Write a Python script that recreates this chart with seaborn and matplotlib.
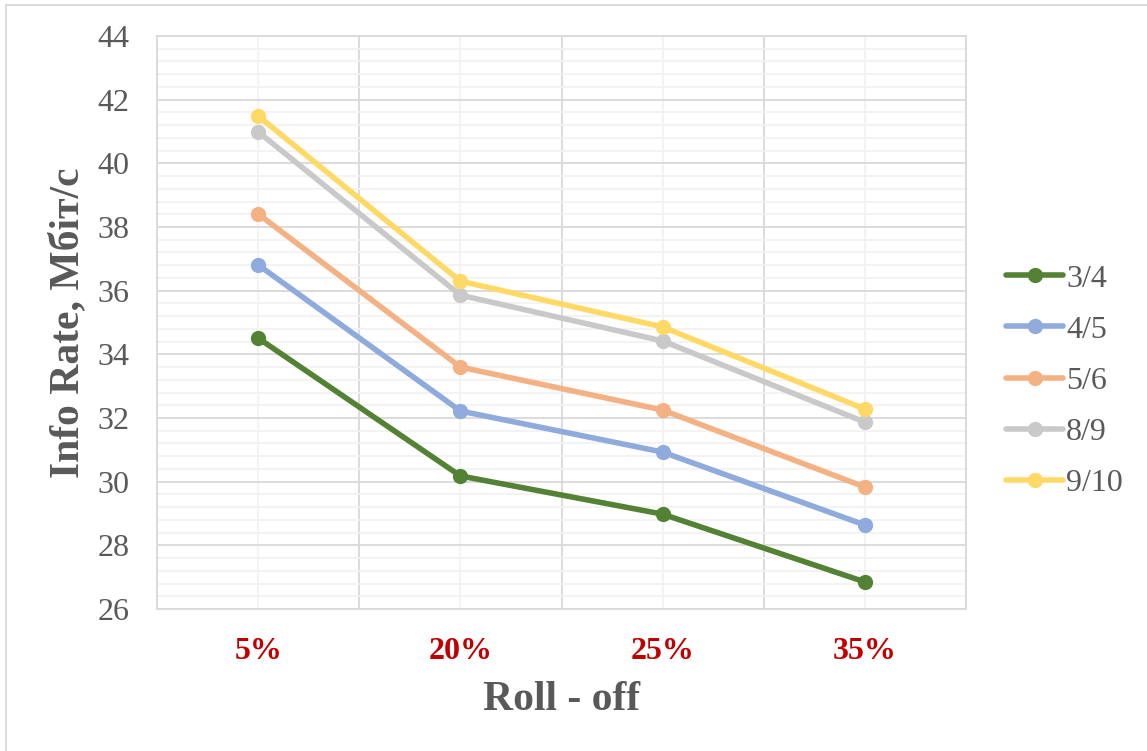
import numpy as np
import pandas as pd
import matplotlib
matplotlib.use("Agg")
import matplotlib.pyplot as plt
from matplotlib.ticker import FixedLocator
from matplotlib.patches import Rectangle
import seaborn as sns

# Roll-off factors and information rate (Mbit/s) for each code rate
roll_off = ["5%", "20%", "25%", "35%"]
rate_3_4 = [34.51, 30.18, 28.98, 26.85]
rate_4_5 = [36.81, 32.22, 30.93, 28.64]
rate_5_6 = [38.41, 33.60, 32.25, 29.83]
rate_8_9 = [40.99, 35.86, 34.42, 31.87]
rate_9_10 = [41.49, 36.30, 34.86, 32.28]
code_rates = ["3/4", "4/5", "5/6", "8/9", "9/10"]
y_ticks = [26, 28, 30, 32, 34, 36, 38, 40, 42, 44]

series = [rate_3_4, rate_4_5, rate_5_6, rate_8_9, rate_9_10]
df = pd.DataFrame({
    "Roll - off": roll_off * len(code_rates),
    "rate": [v for s in series for v in s],
    "code": [c for c in code_rates for _ in roll_off],
})

palette = ["#548235", "#8FAADC", "#F4B183", "#C9C9C9", "#FFD966"]

sns.set_theme(style="white")
plt.rcParams["font.family"] = ["Liberation Serif", "DejaVu Serif"]

fig = plt.figure(figsize=(11.47, 7.51), dpi=100)
ax = fig.add_axes([157 / 1147, 1 - 609 / 751, (966 - 157) / 1147, (609 - 36) / 751])

sns.lineplot(data=df, x="Roll - off", y="rate", hue="code", hue_order=code_rates,
             palette=palette, marker="o", markersize=11, markeredgewidth=0,
             linewidth=4, sort=False, ax=ax, zorder=3)

ax.set_xlim(-0.5, len(roll_off) - 0.5)
ax.set_ylim(y_ticks[0], y_ticks[-1])

# Grid: darker lines at category boundaries and every 2 units, light minor lines elsewhere
ax.set_xticks(range(len(roll_off)))
ax.set_xticklabels(roll_off)
ax.xaxis.set_minor_locator(FixedLocator(np.arange(-0.5, len(roll_off), 1.0)))
ax.set_yticks(y_ticks)
ax.yaxis.set_minor_locator(FixedLocator(np.arange(26, 44.001, 0.4)))
ax.grid(True, which="major", axis="y", color="#D9D9D9", linewidth=1.3)
ax.grid(True, which="minor", axis="y", color="#F2F2F2", linewidth=1.3)
ax.grid(True, which="major", axis="x", color="#F2F2F2", linewidth=1.3)
ax.grid(True, which="minor", axis="x", color="#D9D9D9", linewidth=1.3)
ax.set_axisbelow(True)
ax.tick_params(which="both", length=0)
ax.tick_params(axis="y", pad=20, labelsize=23, labelcolor="#595959")
ax.tick_params(axis="x", pad=20, labelsize=23, labelcolor="#C00000")
for lbl in ax.get_xticklabels():
    lbl.set_fontweight("bold")

for sp in ax.spines.values():
    sp.set_color("#D9D9D9")
    sp.set_linewidth(1.3)

ax.set_xlabel("Roll - off", fontsize=30, fontweight="bold", color="#595959")
ax.set_ylabel("Info Rate, Мбіт/с", fontsize=30, fontweight="bold", color="#595959")
ax.xaxis.set_label_coords(0.5, -0.125)
ax.yaxis.set_label_coords(-0.086, 0.5)

handles, labels = ax.get_legend_handles_labels()
ax.legend(handles, labels, loc="center left", bbox_to_anchor=(990 / 1147, 1 - 381 / 751),
          bbox_transform=fig.transFigure, frameon=False, fontsize=23,
          handlelength=1.8, handletextpad=0.08, labelspacing=0.68,
          labelcolor="#595959", borderpad=0)

# Chart-area border
fig.patches.append(Rectangle((6 / 1147, -0.01), 1.02, 1 - 5 / 751 + 0.01,
                             transform=fig.transFigure, fill=False,
                             edgecolor="#D9D9D9", linewidth=1.3))

fig.savefig("out.png", dpi=100)
